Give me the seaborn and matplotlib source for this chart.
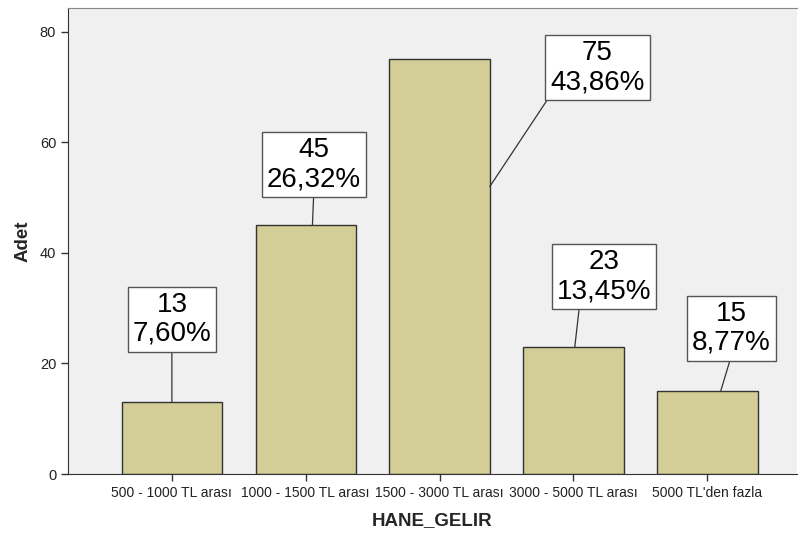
import numpy as np
import pandas as pd
import seaborn as sns
import matplotlib
matplotlib.use("Agg")
import matplotlib.pyplot as plt

categories = ["500 - 1000 TL arası", "1000 - 1500 TL arası", "1500 - 3000 TL arası",
              "3000 - 5000 TL arası", "5000 TL'den fazla"]
counts = [13, 45, 75, 23, 15]
percents = ["7,60%", "26,32%", "43,86%", "13,45%", "8,77%"]
# label box centres (x in category units, y in data units) and where the leader line meets the bar
label_x = [0.0, 1.06, 3.18, 3.23, 4.18]
label_y = [28.0, 55.9, 73.5, 35.7, 26.4]
point_x = [0.0, 1.05, 2.375, 3.01, 4.10]
point_y = [13, 45, 52, 23, 15]
line_from = [(0.5, 0), (0.5, 0), (0, 0), (0.24, 0), (0.5, 0)]

df = pd.DataFrame({"HANE_GELIR": categories, "Adet": counts})

sns.set_style("white")
plt.rcParams["font.family"] = ["Liberation Sans", "DejaVu Sans"]

fig = plt.figure(figsize=(8.02, 5.36), dpi=100)
ax = fig.add_axes([68 / 802, 62 / 536, 729 / 802, 466 / 536])
ax.set_facecolor("#f0f0f0")

sns.barplot(data=df, x="HANE_GELIR", y="Adet", color="#d3ce97", edgecolor="#333333",
            linewidth=1, width=0.75, saturation=1, ax=ax)

for i in range(len(counts)):
    ax.annotate(f"{counts[i]}\n{percents[i]}", xy=(point_x[i], point_y[i]),
                xytext=(label_x[i], label_y[i]), textcoords="data",
                ha="center", va="center", fontsize=20, linespacing=1.15, color="black",
                bbox=dict(boxstyle="square,pad=0.18", fc="white", ec="#555555", lw=1),
                arrowprops=dict(arrowstyle="-", color="#333333", lw=0.9,
                                shrinkA=0, shrinkB=0, relpos=line_from[i]))

ax.set_xlim(-0.776, 4.67)
ax.set_ylim(0, 84.3)
ax.set_yticks([0, 20, 40, 60, 80])
ax.tick_params(axis="both", bottom=True, left=True, length=5, width=1, color="#333333",
               labelsize=10.5, direction="out", labelcolor="#222222")
ax.tick_params(axis="x", labelsize=10)
for s in ["left", "bottom"]:
    ax.spines[s].set_color("#333333")
ax.spines["top"].set_color("#888888")
ax.spines["right"].set_visible(False)
ax.set_xlabel("HANE_GELIR", fontsize=13.5, fontweight="bold", labelpad=9)
ax.set_ylabel("Adet", fontsize=13.5, fontweight="bold", labelpad=6)

fig.savefig("out.png", dpi=100)
